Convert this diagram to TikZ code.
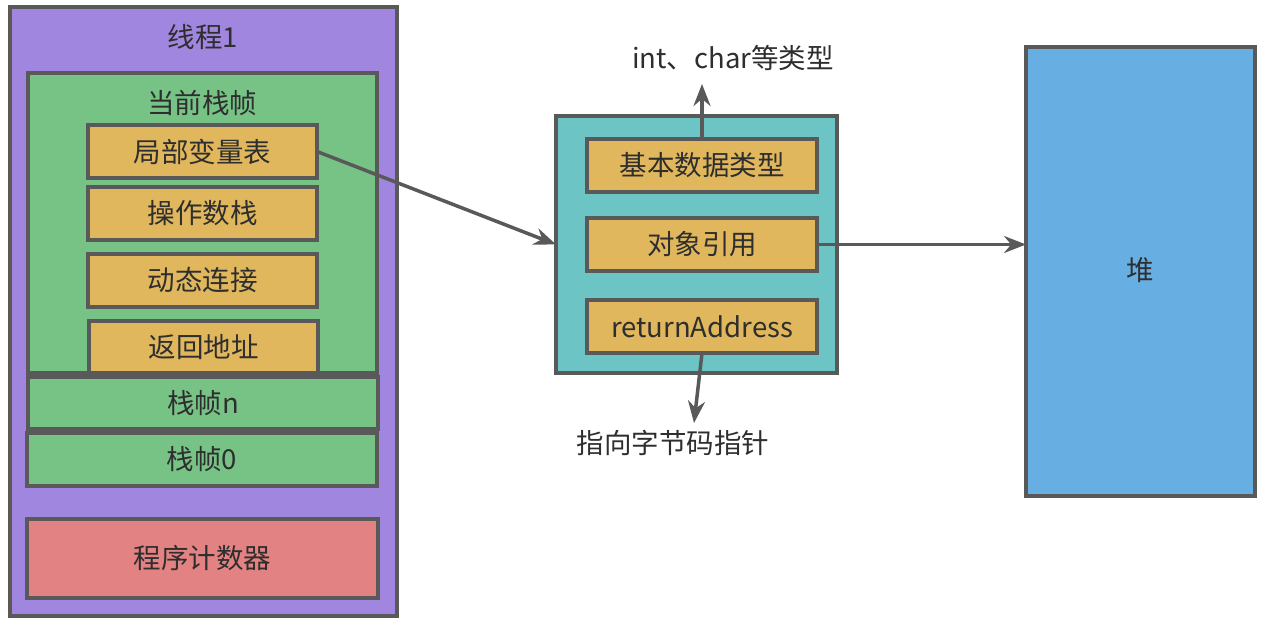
\documentclass[tikz,border=0pt]{standalone}
\usepackage{fontspec}
\setmainfont{Noto Sans CJK SC}
\usetikzlibrary{arrows.meta}
\definecolor{edge}{HTML}{595959}
\definecolor{purp}{HTML}{A086DE}
\definecolor{grn}{HTML}{77C386}
\definecolor{ylw}{HTML}{E0B75C}
\definecolor{teal2}{HTML}{6CC4C4}
\definecolor{blu}{HTML}{67AFE3}
\definecolor{rd}{HTML}{E38282}
\definecolor{txt}{HTML}{2E2E2E}
\tikzset{
  box/.style={draw=edge, line width=3.2pt, rectangle, inner sep=0pt, outer sep=0pt, anchor=north west},
  lbl/.style={inner sep=0pt, text=txt, font=\fontsize{27.5}{32}\selectfont},
  arr/.style={draw=edge, line width=3.5pt, -{Stealth[length=22pt,width=17pt]}},
}
\begin{document}
\begin{tikzpicture}[x=1pt,y=-1pt]
\useasboundingbox (0,0) rectangle (1269,623);
% thread
\node[box, fill=purp, minimum width=387pt, minimum height=609pt] (thread) at (10,7) {};
\node[lbl] (threadlbl) at (203,37) {线程1};
\node[box, fill=grn, minimum width=349pt, minimum height=300pt] (cur) at (28,73) {};
\node[lbl] (curlbl) at (202,103) {当前栈帧};
\node[box, fill=ylw, minimum width=229pt, minimum height=53pt] (lvt) at (88,125) {};
\node[lbl] at (lvt.center) {局部变量表};
\node[box, fill=ylw, minimum width=229pt, minimum height=53pt] (ops) at (88,187) {};
\node[lbl] at (ops.center) {操作数栈};
\node[box, fill=ylw, minimum width=229pt, minimum height=53pt] (dyn) at (88,254) {};
\node[lbl] at (dyn.center) {动态连接};
\node[box, fill=ylw, minimum width=229pt, minimum height=52pt] (ret) at (89,321) {};
\node[lbl] at (ret.center) {返回地址};
\node[box, fill=grn, minimum width=350pt, minimum height=52pt] (fn) at (28,377) {};
\node[lbl] at (fn.center) {栈帧n};
\node[box, fill=grn, minimum width=350pt, minimum height=53pt] (f0) at (27,433) {};
\node[lbl] at (f0.center) {栈帧0};
\node[box, fill=rd, minimum width=351pt, minimum height=79pt] (pc) at (27,519) {};
\node[lbl] at (pc.center) {程序计数器};
% middle
\node[box, fill=teal2, minimum width=281pt, minimum height=257pt] (mid) at (556,116) {};
\node[box, fill=ylw, minimum width=230pt, minimum height=53pt] (basic) at (587,139) {};
\node[lbl] at (basic.center) {基本数据类型};
\node[box, fill=ylw, minimum width=230pt, minimum height=53pt] (ref) at (587,218) {};
\node[lbl] at (ref.center) {对象引用};
\node[box, fill=ylw, minimum width=230pt, minimum height=53pt] (ra) at (587,300) {};
\node[lbl] at (ra.center) {returnAddress};
\node[lbl] (inttxt) at (733,58) {int、char等类型};
\node[lbl] (bctxt) at (673,443) {指向字节码指针};
\coordinate (uptip) at (702,84);
\coordinate (dntip) at (694,423);
% heap
\node[box, fill=blu, minimum width=229pt, minimum height=449pt] (heap) at (1026,47) {};
\node[lbl] at (1140,270) {堆};
% arrows
\draw[arr] (lvt.east) -- (mid.west);
\draw[arr] (ref.east) -- (ref.east -| heap.west);
\draw[arr] (basic.north) -- (uptip);
\draw[arr] (ra.south) -- (dntip);
\end{tikzpicture}
\end{document}
